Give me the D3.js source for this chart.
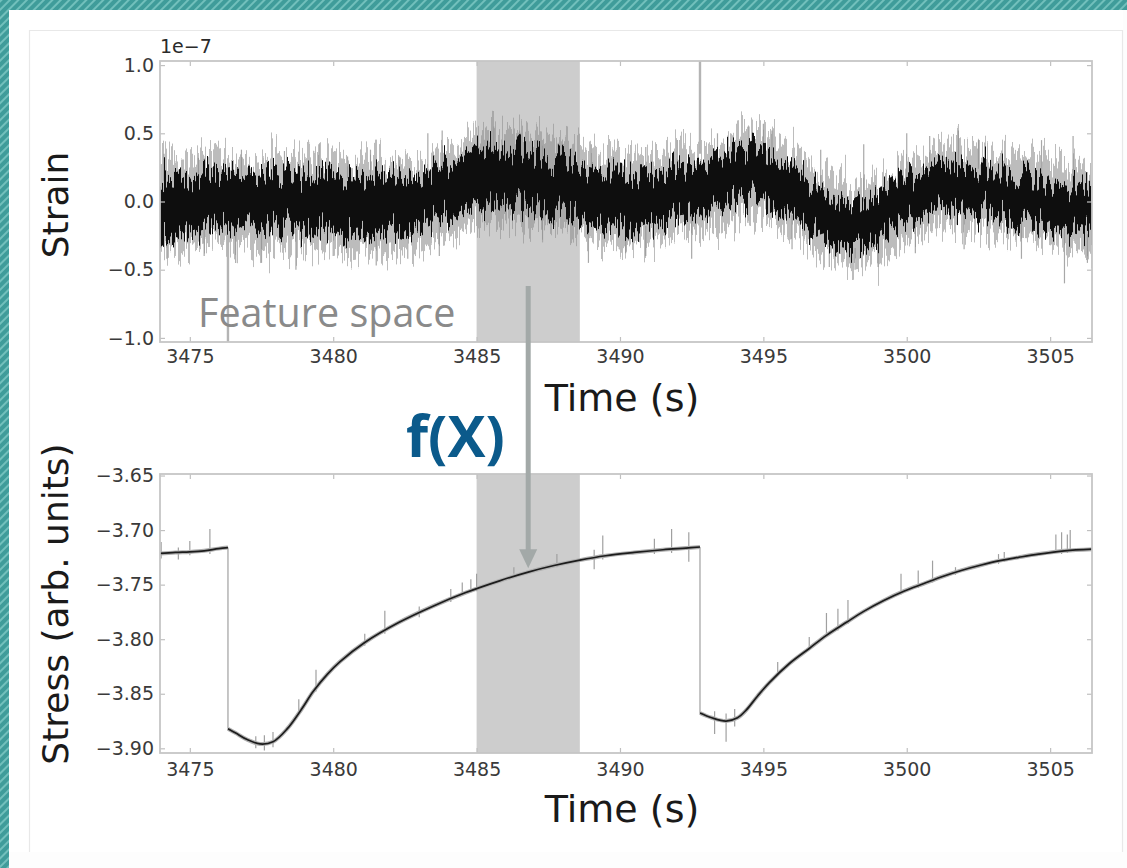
<!DOCTYPE html>
<html>
<head>
<meta charset="utf-8">
<script src="https://cdn.jsdelivr.net/npm/d3@7"></script>
<style>
body { margin: 0; background: #fff; }
svg { display: block; }
</style>
</head>
<body>
<svg id="chart" width="1127" height="868"></svg>
<script>
// ---- data ----
var timeTicks = [3475, 3480, 3485, 3490, 3495, 3500, 3505];
var strainTicks = [-1.0, -0.5, 0.0, 0.5, 1.0];
var stressTicks = [-3.90, -3.85, -3.80, -3.75, -3.70, -3.65];

var windowSpan = [3485, 3488.6];     // shaded feature window
var slipTimes = [3476.33, 3492.79];  // slip events
var slipStrainLo = [-1.03, 0.35];
var slipStrainHi = [-0.25, 1.03];

// strain envelope (units of 1e-7), every 0.5 s
var strainT = [3473.9,3474.5,3475,3475.5,3476,3476.5,3477,3477.5,3478,3478.5,
  3479,3479.5,3480,3480.5,3481,3481.5,3482,3482.5,3483,3483.5,
  3484,3484.5,3485,3485.5,3486,3486.5,3487,3487.5,3488,3488.5,
  3489,3489.5,3490,3490.5,3491,3491.5,3492,3492.5,3493,3493.5,
  3494,3494.5,3495,3495.5,3496,3496.5,3497,3497.5,3498,3498.5,
  3499,3499.5,3500,3500.5,3501,3501.5,3502,3502.5,3503,3503.5,
  3504,3504.5,3505,3505.5,3506,3506.5];
var coreHi = [0.20,0.18,0.15,0.22,0.20,0.22,0.18,0.20,0.22,0.18,
  0.20,0.22,0.20,0.18,0.17,0.20,0.15,0.18,0.15,0.22,
  0.28,0.32,0.38,0.40,0.38,0.40,0.36,0.33,0.32,0.28,
  0.25,0.22,0.22,0.20,0.20,0.22,0.25,0.26,0.28,0.32,
  0.38,0.40,0.38,0.32,0.25,0.18,0.08,0.02,-0.02,-0.02,
  0.05,0.12,0.18,0.22,0.26,0.28,0.27,0.25,0.22,0.22,
  0.20,0.18,0.15,0.12,0.10,0.08];
var coreLo = [-0.25,-0.28,-0.22,-0.20,-0.18,-0.20,-0.15,-0.22,-0.18,-0.20,
  -0.22,-0.18,-0.22,-0.25,-0.23,-0.25,-0.22,-0.25,-0.20,-0.15,
  -0.12,-0.08,-0.05,-0.02,0.00,-0.03,-0.05,-0.05,-0.08,-0.10,
  -0.15,-0.18,-0.20,-0.22,-0.18,-0.15,-0.12,-0.10,-0.08,-0.05,
  0.00,0.02,0.00,-0.05,-0.10,-0.18,-0.25,-0.32,-0.35,-0.33,
  -0.30,-0.22,-0.15,-0.10,-0.06,-0.05,-0.06,-0.08,-0.10,-0.12,
  -0.14,-0.15,-0.18,-0.20,-0.22,-0.25];
var haloHi = [0.34,0.30,0.30,0.33,0.32,0.35,0.30,0.33,0.34,0.31,
  0.33,0.35,0.32,0.30,0.31,0.33,0.28,0.31,0.30,0.36,
  0.42,0.46,0.50,0.52,0.50,0.52,0.48,0.46,0.44,0.40,
  0.37,0.35,0.34,0.32,0.33,0.35,0.37,0.38,0.41,0.45,
  0.50,0.53,0.52,0.45,0.38,0.30,0.22,0.16,0.12,0.13,
  0.18,0.25,0.32,0.36,0.40,0.42,0.40,0.38,0.35,0.34,
  0.33,0.31,0.29,0.27,0.24,0.22];
var haloLo = [-0.38,-0.40,-0.35,-0.33,-0.32,-0.34,-0.30,-0.36,-0.33,-0.35,
  -0.36,-0.33,-0.36,-0.38,-0.36,-0.39,-0.35,-0.37,-0.33,-0.28,
  -0.25,-0.21,-0.18,-0.15,-0.13,-0.17,-0.19,-0.18,-0.22,-0.24,
  -0.29,-0.32,-0.33,-0.35,-0.31,-0.28,-0.26,-0.24,-0.21,-0.18,
  -0.13,-0.11,-0.13,-0.18,-0.24,-0.31,-0.38,-0.44,-0.47,-0.45,
  -0.43,-0.35,-0.28,-0.23,-0.19,-0.18,-0.19,-0.21,-0.24,-0.26,
  -0.28,-0.29,-0.32,-0.34,-0.36,-0.38];

// isolated strain outliers
var strainSpikeT = [3474.1,3475.3,3476.8,3478.3,3479.5,3480.5,3481.3,3482.3,3483.3,3483.8,
  3485.6,3486.5,3487.3,3489.0,3490.9,3492.0,3493.4,3494.5,3495.0,3495.3,
  3497.0,3498.5,3500.0,3500.8,3501.8,3502.5,3504.7,3505.8,
  3474.2,3475.5,3476.6,3477.5,3478.7,3480.0,3481.5,3482.6,3483.7,3487.3,
  3488.9,3490.2,3490.9,3492.5,3496.0,3497.3,3498.2,3499.0,3500.3,3502.0,
  3504.0,3505.5,3506.3];
var strainSpikeLo = [0.15,0.18,0.18,0.20,0.20,0.17,0.17,0.15,0.18,0.25,
  0.38,0.38,0.33,0.22,0.20,0.25,0.30,0.38,0.36,0.32,
  0.08,0.00,0.18,0.24,0.26,0.24,0.17,0.12,
  -0.42,-0.40,-0.45,-0.45,-0.50,-0.40,-0.47,-0.42,-0.40,-0.30,
  -0.45,-0.38,-0.40,-0.42,-0.35,-0.48,-0.50,-0.48,-0.38,-0.35,
  -0.42,-0.60,-0.45];
var strainSpikeHi = [0.35,0.32,0.38,0.37,0.42,0.33,0.38,0.33,0.50,0.52,
  0.55,0.52,0.45,0.42,0.40,0.45,0.50,0.55,0.57,0.52,
  0.38,0.42,0.50,0.48,0.52,0.45,0.45,0.48,
  -0.25,-0.20,-0.20,-0.20,-0.20,-0.22,-0.25,-0.25,-0.12,-0.05,
  -0.15,-0.20,-0.18,-0.10,-0.10,-0.30,-0.34,-0.30,-0.12,-0.06,
  -0.14,-0.20,-0.24];

// stress curve (arb. units); repeated time = stress drop
var stressT = [3473.9,3474.5,3475.0,3475.5,3476.0,3476.33,
  3476.33,3476.6,3477.0,3477.45,3477.9,3478.4,3478.9,3479.3,3479.8,3480.24,
  3481.1,3482.3,3483.5,3484.6,3485.8,3486.8,3487.7,3488.6,3489.5,3490.5,
  3491.5,3492.3,3492.79,
  3492.79,3493.2,3493.7,3494.1,3494.4,3494.8,3495.2,3495.9,3496.6,3497.2,
  3497.9,3498.5,3499.2,3499.9,3500.6,3501.2,3501.9,3502.6,3503.25,3503.9,
  3504.6,3505.5,3506.5];
var stressV = [-3.7215,-3.7205,-3.720,-3.719,-3.717,-3.716,
  -3.882,-3.886,-3.892,-3.896,-3.894,-3.882,-3.864,-3.848,-3.832,-3.8205,
  -3.803,-3.7845,-3.7695,-3.7575,-3.7465,-3.7385,-3.7325,-3.7275,-3.7235,-3.7205,
  -3.718,-3.7165,-3.7155,
  -3.8676,-3.872,-3.875,-3.872,-3.865,-3.852,-3.840,-3.8225,-3.8085,-3.7965,
  -3.7845,-3.7745,-3.7645,-3.756,-3.749,-3.743,-3.737,-3.732,-3.728,-3.725,
  -3.722,-3.719,-3.7175];

// raw stress outliers
var stressSpikeT = [3474.0,3474.6,3475.0,3475.7,3477.3,3477.6,3477.9,3478.8,3479.4,3481.1,
  3481.8,3483.0,3484.1,3484.5,3484.8,3485.0,3486.3,3487.8,3489.1,3489.4,
  3491.2,3491.8,3492.4,3493.3,3493.7,3494.0,3495.5,3496.6,3497.2,3497.6,
  3497.95,3499.8,3500.4,3500.9,3501.7,3503.2,3503.4,3505.2,3505.4,3505.6,3505.7];
var stressSpikeTop = [-3.711,-3.716,-3.710,-3.699,-3.889,-3.888,-3.885,-3.855,-3.828,-3.795,
  -3.774,-3.770,-3.754,-3.748,-3.745,-3.740,-3.734,-3.722,-3.718,-3.705,
  -3.708,-3.699,-3.702,-3.866,-3.868,-3.864,-3.821,-3.798,-3.776,-3.772,
  -3.764,-3.740,-3.737,-3.728,-3.734,-3.722,-3.720,-3.704,-3.702,-3.704,-3.700];
var stressSpikeBot = [-3.726,-3.727,-3.723,-3.722,-3.900,-3.902,-3.899,-3.868,-3.848,-3.806,
  -3.795,-3.780,-3.766,-3.760,-3.757,-3.756,-3.740,-3.734,-3.736,-3.727,
  -3.722,-3.721,-3.729,-3.887,-3.894,-3.880,-3.833,-3.810,-3.798,-3.792,
  -3.786,-3.759,-3.753,-3.748,-3.741,-3.731,-3.729,-3.721,-3.722,-3.721,-3.720];

var arrowT = 3486.8;
var arrowStrain = -0.62;
var arrowStress = -3.735;

// ---- layout ----
var svg = d3.select("#chart");
var defs = svg.append("defs");
var left = 160, right = 1092;
var top1 = 61, bot1 = 342, top2 = 474, bot2 = 753;

var x = d3.scaleLinear().domain([3473.96, 3506.46]).range([left, right]);
var yStrain = d3.scaleLinear().domain([-1.03, 1.03]).range([bot1, top1]);
var yStress = d3.scaleLinear().domain([-3.9043, -3.6486]).range([bot2, top2]);

// slide frame hatching
var pat = defs.append("pattern").attr("id", "hatch").attr("width", 6).attr("height", 6)
    .attr("patternUnits", "userSpaceOnUse").attr("patternTransform", "rotate(45)");
pat.append("rect").attr("width", 6).attr("height", 6).attr("fill", "#3f9c9a");
pat.append("rect").attr("width", 2).attr("height", 6).attr("fill", "#72c0bc");

// vertical-only jitter, gives the dense trace its ragged look
function jagFilter(id, seed, scale) {
    var f = defs.append("filter").attr("id", id)
        .attr("x", "-1%").attr("y", "-80%").attr("width", "102%").attr("height", "260%")
        .attr("color-interpolation-filters", "sRGB");
    f.append("feTurbulence").attr("type", "fractalNoise").attr("baseFrequency", "0.55 0.003")
        .attr("numOctaves", 2).attr("seed", seed).attr("result", "noise");
    f.append("feColorMatrix").attr("in", "noise").attr("type", "matrix")
        .attr("values", "0 0 0 0 0.5  0 1 0 0 0  0 0 0 0 0  0 0 0 0 1").attr("result", "shift");
    f.append("feDisplacementMap").attr("in", "SourceGraphic").attr("in2", "shift")
        .attr("scale", scale).attr("xChannelSelector", "R").attr("yChannelSelector", "G");
}
jagFilter("jagHalo", 4, 75);
jagFilter("jagCore", 11, 60);

defs.append("clipPath").attr("id", "clip1").append("rect")
    .attr("x", left).attr("y", top1).attr("width", right - left).attr("height", bot1 - top1);
defs.append("clipPath").attr("id", "clip2").append("rect")
    .attr("x", left).attr("y", top2).attr("width", right - left).attr("height", bot2 - top2);

// background + frame
svg.append("rect").attr("width", 1127).attr("height", 868).attr("fill", "#fdfdfd");
svg.append("rect").attr("x", 9).attr("y", 10).attr("width", 1114).attr("height", 842).attr("fill", "#ffffff");
svg.append("rect").attr("x", 0).attr("y", 0).attr("width", 1127).attr("height", 10).attr("fill", "url(#hatch)");
svg.append("rect").attr("x", 0).attr("y", 0).attr("width", 9).attr("height", 868).attr("fill", "url(#hatch)");
svg.append("path").attr("d", "M29.5,852 V30.5 H1122.5 V852")
    .attr("fill", "none").attr("stroke", "#e8e8e8").attr("stroke-width", 1.2);

// ---- top panel: strain ----
var g1 = svg.append("g");
var p1 = g1.append("g").attr("clip-path", "url(#clip1)");
p1.append("rect")
    .attr("x", x(windowSpan[0])).attr("y", top1)
    .attr("width", x(windowSpan[1]) - x(windowSpan[0])).attr("height", bot1 - top1)
    .attr("fill", "#cdcdcd");

var strainRows = strainT.map(function(t, i) {
    return { t: t, ch: coreHi[i], cl: coreLo[i], hh: haloHi[i], hl: haloLo[i] };
});
var haloArea = d3.area().x(function(d) { return x(d.t); })
    .y0(function(d) { return yStrain(d.hl); }).y1(function(d) { return yStrain(d.hh); });
var coreArea = d3.area().x(function(d) { return x(d.t); })
    .y0(function(d) { return yStrain(d.cl); }).y1(function(d) { return yStrain(d.ch); });

p1.selectAll("line.spike").data(strainSpikeT).enter().append("line")
    .attr("class", "spike")
    .attr("x1", function(d) { return x(d); }).attr("x2", function(d) { return x(d); })
    .attr("y1", function(d, i) { return yStrain(strainSpikeLo[i]); })
    .attr("y2", function(d, i) { return yStrain(strainSpikeHi[i]); })
    .attr("stroke", "#a8a8a8").attr("stroke-width", 1.2);

p1.append("path").datum(strainRows).attr("d", haloArea)
    .attr("fill", "#8f8f8f").attr("fill-opacity", 0.6).attr("filter", "url(#jagHalo)");
p1.append("path").datum(strainRows).attr("d", coreArea)
    .attr("fill", "#0e0e0e").attr("filter", "url(#jagCore)");

p1.selectAll("line.slip").data(slipTimes).enter().append("line")
    .attr("class", "slip")
    .attr("x1", function(d) { return x(d); }).attr("x2", function(d) { return x(d); })
    .attr("y1", function(d, i) { return yStrain(slipStrainLo[i]); })
    .attr("y2", function(d, i) { return yStrain(slipStrainHi[i]); })
    .attr("stroke", "#b4b4b4").attr("stroke-width", 2.4);

// ---- bottom panel: stress ----
var g2 = svg.append("g");
var p2 = g2.append("g").attr("clip-path", "url(#clip2)");
p2.append("rect")
    .attr("x", x(windowSpan[0])).attr("y", top2)
    .attr("width", x(windowSpan[1]) - x(windowSpan[0])).attr("height", bot2 - top2)
    .attr("fill", "#cdcdcd");

var stressPts = stressT.map(function(t, i) { return { t: t, v: stressV[i] }; });
var segs = [[]];
stressPts.forEach(function(p, i) {
    if (i > 0 && p.t === stressPts[i - 1].t) segs.push([]);
    segs[segs.length - 1].push(p);
});

// drops between cycles
for (var k = 0; k < segs.length - 1; k++) {
    var a = segs[k][segs[k].length - 1], b = segs[k + 1][0];
    p2.append("line").attr("x1", x(a.t)).attr("x2", x(b.t))
        .attr("y1", yStress(a.v)).attr("y2", yStress(b.v))
        .attr("stroke", "#b8b8b8").attr("stroke-width", 1.6);
}

p2.selectAll("line.sspike").data(stressSpikeT).enter().append("line")
    .attr("class", "sspike")
    .attr("x1", function(d) { return x(d); }).attr("x2", function(d) { return x(d); })
    .attr("y1", function(d, i) { return yStress(stressSpikeTop[i]); })
    .attr("y2", function(d, i) { return yStress(stressSpikeBot[i]); })
    .attr("stroke", "#a0a0a0").attr("stroke-width", 1.2);

var stressLine = d3.line().x(function(d) { return x(d.t); })
    .y(function(d) { return yStress(d.v); }).curve(d3.curveCatmullRom.alpha(0.5));
segs.forEach(function(s) {
    p2.append("path").datum(s).attr("d", stressLine)
        .attr("fill", "none").attr("stroke", "#b0b0b0").attr("stroke-width", 4);
    p2.append("path").datum(s).attr("d", stressLine)
        .attr("fill", "none").attr("stroke", "#1c1c1c").attr("stroke-width", 1.7);
});

// ---- axes ----
function frame(g, y0, y1, yScale, yTickVals, yFmt, xPad) {
    g.append("g").attr("transform", "translate(0," + y1 + ")")
        .call(d3.axisBottom(x).tickValues(timeTicks).tickSizeInner(-5).tickSizeOuter(0)
            .tickPadding(xPad).tickFormat(d3.format("d")))
        .call(styleAxis);
    g.append("g").attr("transform", "translate(0," + y0 + ")")
        .call(d3.axisTop(x).tickValues(timeTicks).tickSizeInner(-5).tickSizeOuter(0).tickFormat(""))
        .call(styleAxis);
    g.append("g").attr("transform", "translate(" + left + ",0)")
        .call(d3.axisLeft(yScale).tickValues(yTickVals).tickSizeInner(-5).tickSizeOuter(0)
            .tickPadding(6).tickFormat(yFmt))
        .call(styleAxis);
    g.append("g").attr("transform", "translate(" + right + ",0)")
        .call(d3.axisRight(yScale).tickValues(yTickVals).tickSizeInner(-5).tickSizeOuter(0).tickFormat(""))
        .call(styleAxis);
    g.append("rect").attr("x", left).attr("y", y0).attr("width", right - left).attr("height", y1 - y0)
        .attr("fill", "none").attr("stroke", "#c6c6c6").attr("stroke-width", 1.8);
}
function styleAxis(sel) {
    sel.select(".domain").remove();
    sel.selectAll(".tick line").attr("stroke", "#c0c0c0").attr("stroke-width", 1.2);
    sel.selectAll(".tick text").attr("fill", "#3a3a3a")
        .style("font-family", "'DejaVu Sans', sans-serif").style("font-size", "19px");
}
var minus = function(s) { return s.replace("-", "\u2212"); };
frame(g1, top1, bot1, yStrain, strainTicks, function(d) { return minus(d3.format(".1f")(d)); }, 8);
frame(g2, top2, bot2, yStress, stressTicks, function(d) { return minus(d3.format(".2f")(d)); }, 10);

// ---- labels ----
var labelFont = "'DejaVu Sans', sans-serif";
svg.append("text").attr("x", left).attr("y", 53).text("1e\u22127")
    .attr("fill", "#2a2a2a").style("font-family", labelFont).style("font-size", "19px");
svg.append("text").attr("x", 622).attr("y", 411).attr("text-anchor", "middle").text("Time (s)")
    .attr("fill", "#1a1a1a").style("font-family", labelFont).style("font-size", "38px");
svg.append("text").attr("x", 622).attr("y", 822).attr("text-anchor", "middle").text("Time (s)")
    .attr("fill", "#1a1a1a").style("font-family", labelFont).style("font-size", "38px");
svg.append("text").attr("transform", "translate(68,205) rotate(-90)").attr("text-anchor", "middle")
    .text("Strain").attr("fill", "#1a1a1a").style("font-family", labelFont).style("font-size", "36px");
svg.append("text").attr("transform", "translate(68,604) rotate(-90)").attr("text-anchor", "middle")
    .text("Stress (arb. units)").attr("fill", "#1a1a1a").style("font-family", labelFont).style("font-size", "36px");

svg.append("text").attr("x", 198).attr("y", 327).text("Feature space")
    .attr("fill", "#8a8a8a").style("font-family", "'Open Sans', sans-serif")
    .style("font-weight", 400).style("font-size", "39.5px");

// arrow from feature window to predicted stress
var ax = x(arrowT), ay0 = yStrain(arrowStrain), ay1 = yStress(arrowStress);
svg.append("line").attr("x1", ax).attr("x2", ax).attr("y1", ay0).attr("y2", ay1 - 16)
    .attr("stroke", "#a3a9a8").attr("stroke-width", 5);
svg.append("path").attr("d", "M" + (ax - 9) + "," + (ay1 - 19) + " L" + (ax + 9) + "," + (ay1 - 19) + " L" + ax + "," + ay1 + " Z")
    .attr("fill", "#a3a9a8");

svg.append("text").attr("x", 406).attr("y", 457).text("f(X)")
    .attr("fill", "#0b5a8b").style("font-family", "'Open Sans', sans-serif")
    .style("font-weight", 700).style("font-size", "57px");
</script>
</body>
</html>
